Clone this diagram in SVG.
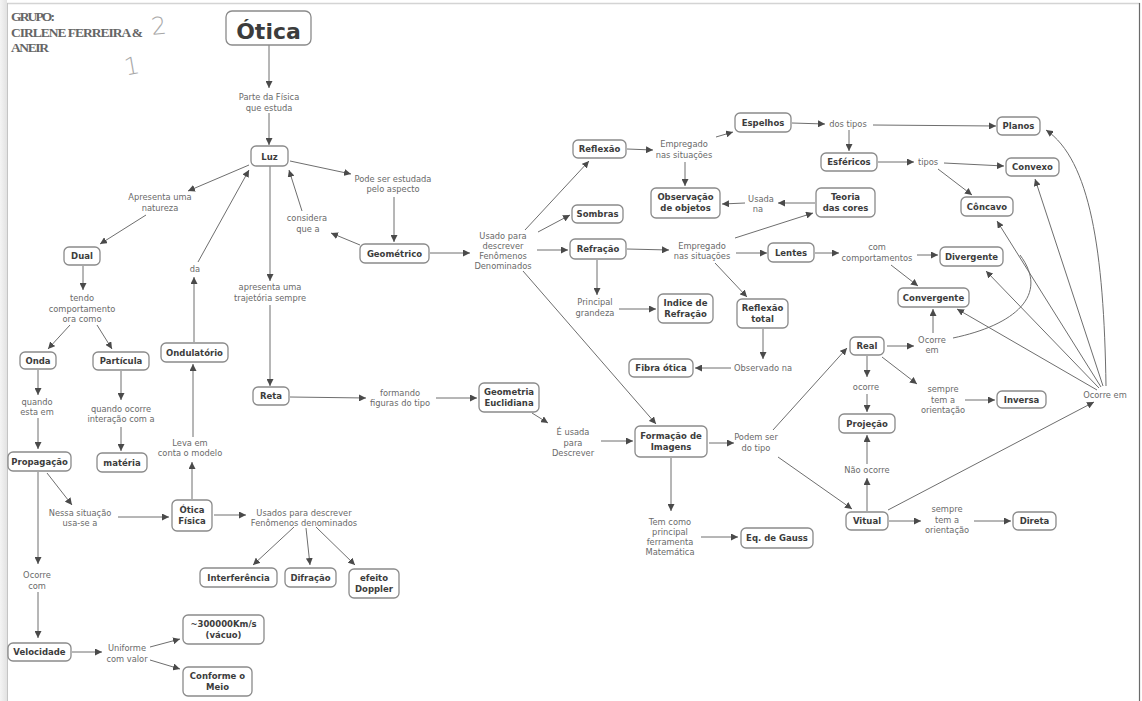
<svg xmlns="http://www.w3.org/2000/svg" width="1142" height="701" viewBox="0 0 1142 701">
<defs>
  <marker id="ah" viewBox="0 0 10 10" refX="10" refY="5" markerWidth="7" markerHeight="7" orient="auto" markerUnits="userSpaceOnUse">
    <path d="M0,0 L10,5 L0,10 z" fill="#4a4a4a"/>
  </marker>
  <linearGradient id="edge" x1="0" y1="0" x2="1" y2="0">
    <stop offset="0" stop-color="#f4f4f4"/>
    <stop offset="1" stop-color="#e2e2e2"/>
  </linearGradient>
</defs>
<style>
  .n rect { fill:#fff; stroke:#8a8a8a; stroke-width:1.3; }
  .n text { font-family:"DejaVu Sans", Verdana, sans-serif; font-weight:bold; font-size:8.5px; fill:#3c3c3c; text-anchor:middle; }
  .l text { font-family:"DejaVu Sans", Verdana, sans-serif; font-size:8.3px; fill:#6a6a6a; text-anchor:middle; }
  #links path { fill:none; stroke:#6e6e6e; stroke-width:1; }
  #links .a { marker-end:url(#ah); }
  .hdr { font-family:"Liberation Serif", serif; font-weight:bold; font-size:13.5px; fill:#666; }
  .hand { font-family:"DejaVu Sans", sans-serif; font-weight:200; font-size:24px; fill:#a8a8a8; }
</style>

<!-- page frame -->
<rect x="0" y="0" width="1142" height="701" fill="#fff"/>
<rect x="0" y="0" width="7" height="701" fill="url(#edge)"/>
<path d="M7,3.5 H1140" stroke="#d4d4d4" stroke-width="1.5"/>
<path d="M7.5,3 V701" stroke="#c4c4c4" stroke-width="1"/>
<path d="M1139.5,3 V701" stroke="#6a6a6a" stroke-width="1.2"/>

<!-- group header -->
<g id="header">
  <text class="hdr" x="11" y="21" textLength="44">GRUPO:</text>
  <text class="hdr" x="11" y="37" textLength="132">CIRLENE FERREIRA &amp;</text>
  <text class="hdr" x="11" y="52" textLength="38">ANEIR</text>
  <text class="hand" x="151" y="34" transform="rotate(-6 161 24)">2</text>
  <text class="hand" x="124" y="74" transform="rotate(-10 133 64)">1</text>
</g>

<!-- connectors -->
<g id="links">
  <path class="a" d="M269,45 V88"/>
  <path class="a" d="M269,113 V145"/>
  <path class="a" d="M249,165 L188,191"/>
  <path class="a" d="M146,215 L100,244"/>
  <path class="a" d="M290,161 L351,174"/>
  <path class="a" d="M394,197 V242"/>
  <path class="a" d="M360,245 L331,233"/>
  <path class="a" d="M302,211 L289,170"/>
  <path class="a" d="M194,342 V277"/>
  <path class="a" d="M198,262 L249,170"/>
  <path class="a" d="M270,166 V281"/>
  <path class="a" d="M270,305 V386"/>
  <path class="a" d="M290,397 L366,398"/>
  <path class="a" d="M436,398 L477,398"/>
  <path class="a" d="M532,413 L548,423"/>
  <path class="a" d="M601,441 L633,441"/>
  <path class="a" d="M430,253 L470,253"/>
  <path class="a" d="M525,230 L589,161"/>
  <path class="a" d="M538,232 L570,215"/>
  <path class="a" d="M537,250 L568,250"/>
  <path class="a" d="M523,271 L656,424"/>
  <path class="a" d="M627,149 L653,150"/>
  <path class="a" d="M716,137 L733,132"/>
  <path class="a" d="M685,162 V186"/>
  <path class="a" d="M792,123 L825,124"/>
  <path class="a" d="M873,125 L996,126"/>
  <path class="a" d="M849,130 V151"/>
  <path class="a" d="M878,162 L914,162"/>
  <path class="a" d="M944,163 L1004,166"/>
  <path class="a" d="M938,169 L972,195"/>
  <path class="a" d="M815,203 L778,203"/>
  <path class="a" d="M745,203 L722,204"/>
  <path class="a" d="M627,249 L669,250"/>
  <path class="a" d="M735,238 L813,213"/>
  <path class="a" d="M736,253 L767,253"/>
  <path class="a" d="M715,263 L747,297"/>
  <path class="a" d="M597,260 V295"/>
  <path class="a" d="M619,309 L656,309"/>
  <path class="a" d="M763,329 V359"/>
  <path class="a" d="M731,368 L695,368"/>
  <path class="a" d="M815,253 L839,253"/>
  <path class="a" d="M917,255 L938,255"/>
  <path class="a" d="M891,265 L918,286"/>
  <path class="a" d="M709,443 L734,443"/>
  <path class="a" d="M671,458 V511"/>
  <path class="a" d="M701,537 L738,537"/>
  <path class="a" d="M773,430 L847,348"/>
  <path class="a" d="M778,457 L852,509"/>
  <path class="a" d="M887,346 L914,346"/>
  <path class="a" d="M933,333 V309"/>
  <path d="M953,338 C1015,325 1050,295 1020,255"/>
  <path class="a" d="M867,356 V377"/>
  <path class="a" d="M867,394 V412"/>
  <path class="a" d="M882,357 L917,384"/>
  <path class="a" d="M965,400 L995,400"/>
  <path class="a" d="M867,511 V478"/>
  <path class="a" d="M867,464 V435"/>
  <path class="a" d="M889,521 L921,521"/>
  <path class="a" d="M974,521 L1011,521"/>
  <path class="a" d="M888,510 L1094,402"/>
  <path class="a" d="M1106,386 C1104,250 1090,160 1046,130"/>
  <path class="a" d="M1103,386 L1035,179"/>
  <path class="a" d="M1101,387 L997,221"/>
  <path class="a" d="M1099,388 L986,271"/>
  <path class="a" d="M1097,390 L957,309"/>
  <path class="a" d="M83,266 V290"/>
  <path class="a" d="M70,325 L48,349"/>
  <path class="a" d="M97,325 L112,349"/>
  <path class="a" d="M38,370 V395"/>
  <path class="a" d="M38,418 V449"/>
  <path class="a" d="M121,371 V400"/>
  <path class="a" d="M121,427 V451"/>
  <path class="a" d="M47,473 L72,505"/>
  <path class="a" d="M118,517 L169,517"/>
  <path class="a" d="M192,499 V462"/>
  <path class="a" d="M193,437 V364"/>
  <path class="a" d="M214,515 L246,515"/>
  <path class="a" d="M294,527 L253,565"/>
  <path class="a" d="M306,528 L310,565"/>
  <path class="a" d="M316,527 L355,565"/>
  <path class="a" d="M38,472 V564"/>
  <path class="a" d="M38,592 V638"/>
  <path class="a" d="M72,652 L102,652"/>
  <path class="a" d="M150,647 L180,639"/>
  <path class="a" d="M150,660 L180,669"/>
</g>

<!-- linking phrases -->
<g class="l">
  <text x="269" y="100">Parte da Física</text><text x="269" y="110.5">que estuda</text>
  <text x="160" y="200">Apresenta uma</text><text x="160" y="211">natureza</text>
  <text x="393" y="182">Pode ser estudada</text><text x="393" y="192">pelo aspecto</text>
  <text x="307" y="221">considera</text><text x="308" y="232">que a</text>
  <text x="195" y="272">da</text>
  <text x="270" y="290">apresenta uma</text><text x="270" y="301">trajetória sempre</text>
  <text x="82" y="301">tendo</text><text x="82" y="312">comportamento</text><text x="82" y="322">ora como</text>
  <text x="37" y="405">quando</text><text x="37" y="415">esta em</text>
  <text x="121" y="412">quando ocorre</text><text x="121" y="422">interação com a</text>
  <text x="190" y="446">Leva em</text><text x="190" y="456">conta o modelo</text>
  <text x="80" y="516">Nessa situação</text><text x="80" y="526">usa-se a</text>
  <text x="304" y="516">Usados para descrever</text><text x="304" y="526">Fenômenos denominados</text>
  <text x="37" y="578">Ocorre</text><text x="37" y="589">com</text>
  <text x="127" y="651">Uniforme</text><text x="127" y="662">com valor</text>
  <text x="400" y="396">formando</text><text x="400" y="406">figuras do tipo</text>
  <text x="573" y="435">É usada</text><text x="573" y="446">para</text><text x="573" y="456">Descrever</text>
  <text x="503" y="239">Usado para</text><text x="503" y="249">descrever</text><text x="503" y="259">Fenômenos</text><text x="503" y="269">Denominados</text>
  <text x="684" y="147">Empregado</text><text x="684" y="158">nas situações</text>
  <text x="848" y="127">dos tipos</text>
  <text x="928" y="165">tipos</text>
  <text x="761" y="202">Usada</text><text x="758" y="212">na</text>
  <text x="702" y="249">Empregado</text><text x="702" y="259">nas situações</text>
  <text x="595" y="305">Principal</text><text x="595" y="316">grandeza</text>
  <text x="763" y="371">Observado na</text>
  <text x="877" y="250">com</text><text x="877" y="261">comportamentos</text>
  <text x="756" y="440">Podem ser</text><text x="756" y="451">do tipo</text>
  <text x="932" y="343">Ocorre</text><text x="932" y="353">em</text>
  <text x="866" y="390">ocorre</text>
  <text x="943" y="392">sempre</text><text x="943" y="403">tem a</text><text x="943" y="413">orientação</text>
  <text x="867" y="473">Não ocorre</text>
  <text x="947" y="512">sempre</text><text x="947" y="523">tem a</text><text x="947" y="533">orientação</text>
  <text x="670" y="525">Tem como</text><text x="670" y="535">principal</text><text x="670" y="545">ferramenta</text><text x="670" y="555">Matemática</text>
  <text x="1105" y="398">Ocorre em</text>
</g>

<!-- concepts -->
<g id="otica" class="n"><rect x="226" y="11" width="85" height="34" rx="6"/><text x="268.5" y="39" style="font-size:22px">Ótica</text></g>
<g id="luz" class="n"><rect x="251" y="146" width="37" height="20" rx="5"/><text x="269.5" y="159.5">Luz</text></g>
<g id="dual" class="n"><rect x="64" y="247" width="36" height="18" rx="5"/><text x="82" y="259">Dual</text></g>
<g id="onda" class="n"><rect x="20" y="352" width="36" height="17" rx="5"/><text x="38" y="363.5">Onda</text></g>
<g id="particula" class="n"><rect x="93" y="352" width="56" height="18" rx="5"/><text x="121" y="364">Partícula</text></g>
<g id="ondulatorio" class="n"><rect x="161" y="343" width="67" height="19" rx="5"/><text x="194.5" y="355.5">Ondulatório</text></g>
<g id="reta" class="n"><rect x="253" y="387" width="36" height="18" rx="5"/><text x="271" y="399">Reta</text></g>
<g id="geometrico" class="n"><rect x="360" y="244" width="69" height="19" rx="5"/><text x="394.5" y="256.5">Geométrico</text></g>
<g id="propagacao" class="n"><rect x="8" y="452" width="63" height="19" rx="5"/><text x="39.5" y="464.5">Propagação</text></g>
<g id="materia" class="n"><rect x="97" y="453" width="50" height="19" rx="5"/><text x="122" y="465.5">matéria</text></g>
<g id="otica-fisica" class="n"><rect x="172" y="500" width="40" height="31" rx="5"/><text x="192" y="512.5">Ótica</text><text x="192" y="523.5">Física</text></g>
<g id="interferencia" class="n"><rect x="200" y="568" width="77" height="19" rx="5"/><text x="238.5" y="580.5">Interferência</text></g>
<g id="difracao" class="n"><rect x="285" y="568" width="51" height="19" rx="5"/><text x="310.5" y="580.5">Difração</text></g>
<g id="doppler" class="n"><rect x="349" y="569" width="50" height="29" rx="5"/><text x="374" y="581">efeito</text><text x="374" y="592">Doppler</text></g>
<g id="velocidade" class="n"><rect x="8" y="643" width="63" height="18" rx="5"/><text x="39.5" y="655">Velocidade</text></g>
<g id="vacuo" class="n"><rect x="183" y="615" width="81" height="29" rx="5"/><text x="223.5" y="627">~300000Km/s</text><text x="223.5" y="638">(vácuo)</text></g>
<g id="meio" class="n"><rect x="183" y="667" width="69" height="29" rx="5"/><text x="217.5" y="679">Conforme o</text><text x="217.5" y="690">Meio</text></g>
<g id="euclidiana" class="n"><rect x="479" y="383" width="60" height="29" rx="5"/><text x="509" y="395">Geometria</text><text x="509" y="406">Euclidiana</text></g>
<g id="formacao" class="n"><rect x="635" y="426" width="72" height="31" rx="5"/><text x="671" y="439">Formação de</text><text x="671" y="450">Imagens</text></g>
<g id="gauss" class="n"><rect x="741" y="528" width="72" height="20" rx="5"/><text x="777" y="541">Eq. de Gauss</text></g>
<g id="reflexao" class="n"><rect x="573" y="140" width="53" height="18" rx="5"/><text x="599.5" y="152">Reflexão</text></g>
<g id="sombras" class="n"><rect x="572" y="205" width="51" height="18" rx="5"/><text x="597.5" y="217">Sombras</text></g>
<g id="refracao" class="n"><rect x="570" y="239" width="56" height="20" rx="5"/><text x="598" y="252">Refração</text></g>
<g id="indice" class="n"><rect x="658" y="294" width="55" height="29" rx="5"/><text x="685.5" y="306">Indice de</text><text x="685.5" y="317">Refração</text></g>
<g id="reflexao-total" class="n"><rect x="737" y="299" width="51" height="29" rx="5"/><text x="762.5" y="311">Reflexão</text><text x="762.5" y="322">total</text></g>
<g id="fibra" class="n"><rect x="629" y="359" width="64" height="18" rx="5"/><text x="661" y="371">Fibra ótica</text></g>
<g id="observacao" class="n"><rect x="651" y="188" width="69" height="30" rx="5"/><text x="685.5" y="200">Observação</text><text x="685.5" y="211">de objetos</text></g>
<g id="espelhos" class="n"><rect x="735" y="113" width="56" height="19" rx="5"/><text x="763" y="125.5">Espelhos</text></g>
<g id="planos" class="n"><rect x="997" y="117" width="43" height="18" rx="5"/><text x="1018.5" y="129">Planos</text></g>
<g id="esfericos" class="n"><rect x="821" y="153" width="56" height="18" rx="5"/><text x="849" y="165">Esféricos</text></g>
<g id="convexo" class="n"><rect x="1006" y="158" width="53" height="18" rx="5"/><text x="1032.5" y="170">Convexo</text></g>
<g id="concavo" class="n"><rect x="961" y="197" width="52" height="19" rx="5"/><text x="987" y="209.5">Côncavo</text></g>
<g id="teoria" class="n"><rect x="816" y="188" width="59" height="29" rx="5"/><text x="845.5" y="200">Teoria</text><text x="845.5" y="211">das cores</text></g>
<g id="lentes" class="n"><rect x="768" y="243" width="46" height="19" rx="5"/><text x="791" y="255.5">Lentes</text></g>
<g id="divergente" class="n"><rect x="940" y="247" width="63" height="19" rx="5"/><text x="971.5" y="259.5">Divergente</text></g>
<g id="convergente" class="n"><rect x="898" y="288" width="71" height="19" rx="5"/><text x="933.5" y="300.5">Convergente</text></g>
<g id="real" class="n"><rect x="850" y="337" width="34" height="18" rx="5"/><text x="867" y="349">Real</text></g>
<g id="projecao" class="n"><rect x="839" y="414" width="56" height="19" rx="5"/><text x="867" y="426.5">Projeção</text></g>
<g id="inversa" class="n"><rect x="997" y="391" width="49" height="17" rx="5"/><text x="1021.5" y="402.5">Inversa</text></g>
<g id="vitual" class="n"><rect x="846" y="512" width="42" height="18" rx="5"/><text x="867" y="524">Vitual</text></g>
<g id="direta" class="n"><rect x="1013" y="512" width="43" height="18" rx="5"/><text x="1034.5" y="524">Direta</text></g>
</svg>
